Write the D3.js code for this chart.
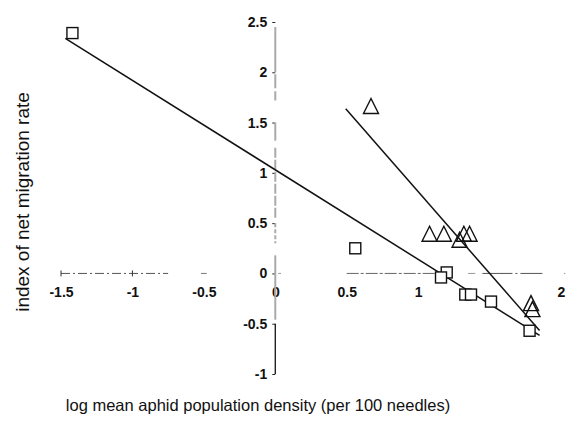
<!DOCTYPE html>
<html>
<head>
<meta charset="utf-8">
<script src="https://cdn.jsdelivr.net/npm/d3@7"></script>
<style>
  html, body { margin: 0; padding: 0; background: #fff; }
  svg { display: block; }
  text { font-family: "Liberation Sans", Arial, Helvetica, sans-serif; fill: #111; }
  .tick text { font-size: 14px; font-weight: bold; }
</style>
</head>
<body>
<svg id="chart" width="568" height="421"></svg>
<script>
// Square series: log density vs. migration index
const squareX = [-1.42, 0.56, 1.20, 1.16, 1.33, 1.37, 1.51, 1.78];
const squareY = [2.39, 0.25, 0.01, -0.04, -0.21, -0.21, -0.28, -0.57];

// Triangle series
const triangleX = [0.67, 1.08, 1.18, 1.29, 1.32, 1.36, 1.79, 1.80];
const triangleY = [1.66, 0.39, 0.39, 0.33, 0.39, 0.39, -0.30, -0.36];

// Fitted lines: [intercept, slope, xStart, xEnd]
const squareFit = [1.03, -0.89, -1.47, 1.85];
const triangleFit = [2.44, -1.626, 0.493, 1.85];

// Axis ticks (1.5 on the x axis sits under the markers and carries no label)
const xTicks = [-1.5, -1, -0.5, 0, 0.5, 1, 2];
const yTicks = [-1, -0.5, 0, 0.5, 1, 1.5, 2, 2.5];

const svg = d3.select("#chart");

const x = d3.scaleLinear().domain([-1.5, 2]).range([61, 561]);
const y = d3.scaleLinear().domain([-1, 2.5]).range([374, 22]);

const fmt = d => (d === 0 ? "0" : String(d));

// ---- x axis along y = 0
const xAxis = svg.append("g")
  .attr("transform", `translate(0,${y(0)})`)
  .call(d3.axisBottom(x).tickValues(xTicks).tickSize(0).tickPadding(14).tickFormat(fmt));
xAxis.select(".domain").remove();
xAxis.attr("font-size", null).attr("font-family", null);
xAxis.selectAll("text").attr("fill", "#111");

// broken, faint axis rule
const xSegs = [[-1.5, -0.75, "#555", "9 3 2 3"], [-0.52, -0.48, "#777", null],
               [0.02, 0.04, "#999", null],
               [0.5, 1.18, "#666", "12 2 3 2"], [1.35, 1.4, "#999", null],
               [1.45, 1.87, "#555", "30 3 2 3"], [2.02, 2.03, "#999", null]];
svg.append("g").selectAll("line").data(xSegs).join("line")
  .attr("x1", d => x(d[0])).attr("x2", d => x(d[1]))
  .attr("y1", y(0)).attr("y2", y(0))
  .attr("stroke", d => d[2]).attr("stroke-width", 1)
  .attr("stroke-dasharray", d => d[3]);
svg.append("g").selectAll("line").data([-1.5, -1]).join("line")
  .attr("x1", d => x(d)).attr("x2", d => x(d))
  .attr("y1", y(0) - 3).attr("y2", y(0) + 3)
  .attr("stroke", "#333").attr("stroke-width", 1);

// ---- y axis along x = 0
const yAxis = svg.append("g")
  .attr("transform", `translate(${x(0)},0)`)
  .call(d3.axisLeft(y).tickValues(yTicks).tickSize(3).tickPadding(5).tickFormat(fmt));
yAxis.select(".domain").remove();
yAxis.attr("font-size", null).attr("font-family", null);
yAxis.selectAll(".tick line").attr("stroke", "#222");
yAxis.selectAll("text").attr("fill", "#111");

const ySegs = [[2.45, 2.0, "#aaa", 2, null], [1.98, 1.72, "#aaa", 2, "14 3"],
               [1.5, 1.32, "#aaa", 2, null], [1.25, 0.55, "#aaa", 2, "10 2"],
               [0.5, 0.3, "#aaa", 2, "4 2"], [0.18, -0.46, "#aaa", 2, null],
               [-0.5, -1.0, "#111", 1.3, null]];
svg.append("g").selectAll("line").data(ySegs).join("line")
  .attr("x1", x(0)).attr("x2", x(0))
  .attr("y1", d => y(d[0])).attr("y2", d => y(d[1]))
  .attr("stroke", d => d[2]).attr("stroke-width", d => d[3])
  .attr("stroke-dasharray", d => d[4]);

// ---- fitted lines
function fitLine(f) {
  const [a, b, x0, x1] = f;
  return [[x0, a + b * x0], [x1, a + b * x1]];
}
const line = d3.line().x(d => x(d[0])).y(d => y(d[1]));
svg.append("g").selectAll("path").data([squareFit, triangleFit]).join("path")
  .attr("d", f => line(fitLine(f)))
  .attr("fill", "none").attr("stroke", "#111").attr("stroke-width", 1.5);

// ---- markers
const squares = squareX.map((v, i) => [v, squareY[i]]);
const triangles = triangleX.map((v, i) => [v, triangleY[i]]);

svg.append("g").selectAll("rect").data(squares).join("rect")
  .attr("x", d => x(d[0]) - 5.5).attr("y", d => y(d[1]) - 5.5)
  .attr("width", 11).attr("height", 11)
  .attr("fill", "#fff").attr("stroke", "#111").attr("stroke-width", 1.4);

svg.append("g").selectAll("path").data(triangles).join("path")
  .attr("d", "M0,-8L7.5,7L-7.5,7Z")
  .attr("transform", d => `translate(${x(d[0])},${y(d[1])})`)
  .attr("fill", "none").attr("stroke", "#111").attr("stroke-width", 1.4);

// ---- axis titles
svg.append("text")
  .attr("x", 258).attr("y", 411)
  .attr("text-anchor", "middle").attr("font-size", 16.5)
  .text("log mean aphid population density (per 100 needles)");

svg.append("text")
  .attr("transform", "translate(29,202) rotate(-90)")
  .attr("text-anchor", "middle").attr("font-size", 19)
  .text("index of net migration rate");
</script>
</body>
</html>
